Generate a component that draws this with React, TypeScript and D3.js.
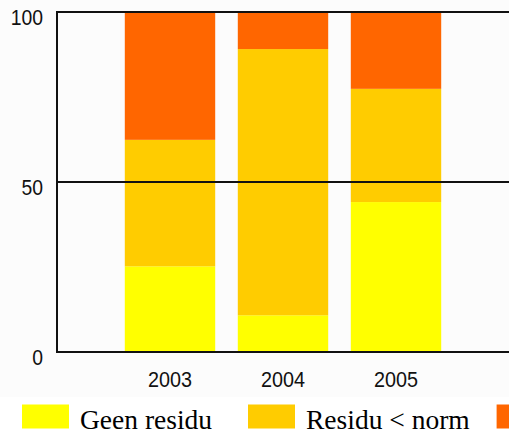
import React from "react";
import * as d3 from "d3";

const categories = ["2003", "2004", "2005"];
const seriesNames = ["Geen residu", "Residu < norm", "Residu > norm"];
const geenResidu = [25.2, 10.8, 44.1];
const residuOnderNorm = [37.2, 78.3, 33.3];
const residuBovenNorm = [37.6, 10.9, 22.6];
const colors = ["#FFFF00", "#FFCC00", "#FF6600"];
const yTicks = [0, 50, 100];

const W = 509;
const H = 437;

export default function App() {
  const y = d3.scaleLinear().domain([0, 100]).range([352, 12]);
  const x = d3
    .scaleBand<string>()
    .domain(categories)
    .range([113.5, 452.5])
    .paddingInner(0.2)
    .paddingOuter(0.1);

  const rows = categories.map((c, i) => ({
    cat: c,
    s0: geenResidu[i],
    s1: residuOnderNorm[i],
    s2: residuBovenNorm[i],
  }));
  const stacked = d3.stack<any>().keys(["s0", "s1", "s2"])(rows);

  const legendX = d3.scaleLinear().domain([0, 1]).range([22, 248]);

  return (
    <svg
      width={W}
      height={H}
      style={{ position: "absolute", left: 0, top: 0, background: "#ffffff" }}
    >
      <rect x={0} y={0} width={W} height={397} fill="#fcfcfc" />
      {stacked.map((layer, li) =>
        layer.map((d, i) => (
          <rect
            key={`${li}-${i}`}
            x={x(categories[i])}
            width={x.bandwidth()}
            y={y(d[1])}
            height={y(d[0]) - y(d[1])}
            fill={colors[li]}
          />
        ))
      )}
      {yTicks.map((t) => (
        <g key={t}>
          <line x1={57} x2={W} y1={y(t)} y2={y(t)} stroke="#111" strokeWidth={2} />
          <text
            x={43}
            y={y(t) + 7}
            textAnchor="end"
            dominantBaseline="middle"
            fontFamily="Liberation Sans, Arial, sans-serif"
            fontSize={21.5}
            fill="#111"
            transform={`translate(${43 * (1 - 0.9)},0) scale(0.9,1)`}
          >
            {t}
          </text>
        </g>
      ))}
      <line x1={57} x2={57} y1={y(100) - 1} y2={y(0) + 1} stroke="#111" strokeWidth={2} />
      {categories.map((c) => {
        const cx = (x(c) as number) + x.bandwidth() / 2;
        return (
          <text
            key={c}
            x={cx}
            y={381}
            textAnchor="middle"
            dominantBaseline="middle"
            fontFamily="Liberation Sans, Arial, sans-serif"
            fontSize={22}
            fill="#111"
            transform={`translate(${cx * (1 - 0.9)},0) scale(0.9,1)`}
          >
            {c}
          </text>
        );
      })}
      {seriesNames.map((s, i) => {
        const lx = i < 2 ? legendX(i) : legendX(1) + (legendX(1) - legendX(0)) * 1.1;
        const textX = lx + 58;
        return (
          <g key={s}>
            <rect x={lx} y={404.5} width={47} height={24} fill={colors[i]} />
            {textX < W && (
              <text
                x={textX}
                y={429}
                fontFamily="Liberation Serif, Times New Roman, serif"
                fontSize={27.5}
                fill="#000"
              >
                {s}
              </text>
            )}
          </g>
        );
      })}
    </svg>
  );
}
